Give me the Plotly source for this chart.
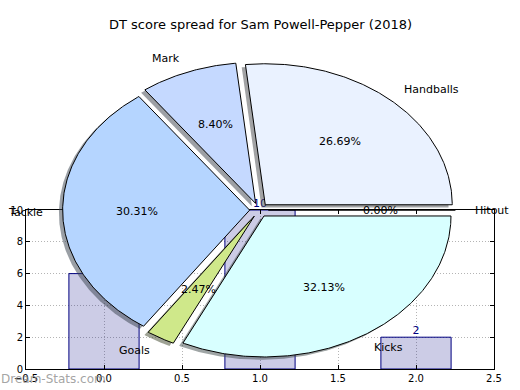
import numpy as np
import plotly.graph_objects as go

# ---- data ----
title_text = "DT score spread for Sam Powell-Pepper (2018)"
pie_labels = ["Handballs", "Mark", "Tackle", "Goals", "Kicks", "Hitout"]
pie_values = [26.69, 8.40, 30.31, 2.47, 32.13, 0.00]
pie_colors = ["#eaf2ff", "#c5d9ff", "#b5d5ff", "#cfe88a", "#d8ffff", "#ffffcc"]
bar_x = [0, 1, 2]
bar_values = [6, 10, 2]
x_ticks = [-0.5, 0.0, 0.5, 1.0, 1.5, 2.0, 2.5]
y_ticks = [0, 2, 4, 6, 8, 10]
watermark = "Dream-Stats.com"

# ---- layout constants (pie drawn in a pixel-like overlay axis) ----
W, H = 520, 390
CX, CY, RX, RY = 259.0, 210.0, 187.0, 141.0
EXPLODE = 0.05
SHADOW = 0.02
FONT = "DejaVu Sans"


def hex_to_rgb(h):
    h = h.lstrip("#")
    return tuple(int(h[i:i + 2], 16) for i in (0, 2, 4))


fig = go.Figure()

# bars
fig.add_trace(go.Bar(
    x=bar_x, y=bar_values, width=0.45,
    marker=dict(color="rgba(0,0,128,0.2)", line=dict(color="#000080", width=1)),
    hoverinfo="skip", showlegend=False, xaxis="x", yaxis="y",
))
fig.add_trace(go.Scatter(
    x=bar_x, y=bar_values, mode="text", text=[str(v) for v in bar_values],
    textposition="top center", textfont=dict(color="#000080", size=11, family=FONT),
    cliponaxis=False, hoverinfo="skip", showlegend=False, xaxis="x", yaxis="y",
))

# pie geometry from values
total = float(sum(pie_values))
angles = []
start = 0.0
for v in pie_values:
    span = 360.0 * v / total
    angles.append((start, start + span))
    start += span


def wedge(t1, t2, dx, dy):
    n = max(2, int(abs(t2 - t1) * 2) + 2)
    ts = np.radians(np.linspace(t1, t2, n))
    xs = [CX + dx] + list(CX + dx + RX * np.cos(ts)) + [CX + dx]
    ys = [CY - dy] + list(CY - dy - RY * np.sin(ts)) + [CY - dy]
    return xs, ys


# shadows first
for (t1, t2), col in zip(angles, pie_colors):
    mid = np.radians((t1 + t2) / 2)
    dx = EXPLODE * RX * np.cos(mid) - SHADOW * RX
    dy = EXPLODE * RY * np.sin(mid) - SHADOW * RY
    xs, ys = wedge(t1, t2, dx, dy)
    r, g, b = hex_to_rgb(col)
    fig.add_trace(go.Scatter(
        x=xs, y=ys, mode="lines", fill="toself",
        fillcolor="rgba(%d,%d,%d,0.5)" % (int(0.3 * r), int(0.3 * g), int(0.3 * b)),
        line=dict(width=0, color="rgba(0,0,0,0)"),
        hoverinfo="skip", showlegend=False, xaxis="x2", yaxis="y2",
    ))

annotations = []
for (t1, t2), col, lab, v in zip(angles, pie_colors, pie_labels, pie_values):
    mid = np.radians((t1 + t2) / 2)
    dx = EXPLODE * RX * np.cos(mid)
    dy = EXPLODE * RY * np.sin(mid)
    xs, ys = wedge(t1, t2, dx, dy)
    fig.add_trace(go.Scatter(
        x=xs, y=ys, mode="lines", fill="toself", fillcolor=col,
        line=dict(width=1, color="black"),
        hoverinfo="skip", showlegend=False, xaxis="x2", yaxis="y2",
    ))
    lx = CX + dx + 1.1 * RX * np.cos(mid)
    ly = CY - dy - 1.1 * RY * np.sin(mid)
    annotations.append(dict(
        x=lx, y=ly, xref="x2", yref="y2", text=lab, showarrow=False,
        xanchor="left" if np.cos(mid) > 0 else "right", yanchor="middle",
        font=dict(size=11, color="black", family=FONT), borderpad=0,
    ))
    px = CX + dx + 0.6 * RX * np.cos(mid)
    py = CY - dy - 0.6 * RY * np.sin(mid)
    annotations.append(dict(
        x=px, y=py, xref="x2", yref="y2", text="%.2f%%" % (100.0 * v / total),
        showarrow=False, xanchor="center", yanchor="middle",
        font=dict(size=11, color="black", family=FONT), borderpad=0,
    ))

annotations.append(dict(
    x=0.5, y=1 - 25.0 / H, xref="paper", yref="paper", text=title_text,
    showarrow=False, xanchor="center", yanchor="middle",
    font=dict(size=13, color="black", family=FONT),
))
annotations.append(dict(
    x=0.0, y=11.0 / H, xref="paper", yref="paper", text=watermark,
    showarrow=False, xanchor="left", yanchor="middle", borderpad=0,
    font=dict(size=12, color="rgba(140,140,140,0.8)", family=FONT),
))

axis_common = dict(
    showgrid=True, gridcolor="#b4b4b4", griddash="1px,2px", gridwidth=1,
    ticks="inside", ticklen=4, tickcolor="black", mirror="ticks",
    showline=True, linecolor="black", linewidth=1, zeroline=False,
    tickfont=dict(size=10, color="black", family=FONT), automargin=False,
)

fig.update_layout(
    template="none",
    width=W, height=H,
    margin=dict(l=0, r=0, t=0, b=0, pad=0, autoexpand=False),
    paper_bgcolor="white", plot_bgcolor="rgba(0,0,0,0)",
    showlegend=False,
    font=dict(family=FONT),
    xaxis=dict(domain=[26.0 / W, 494.0 / W], range=[-0.5, 2.5], tickvals=x_ticks,
               tickformat=".1f", anchor="y", **axis_common),
    yaxis=dict(domain=[21.0 / H, 180.0 / H], range=[0, 10], tickvals=y_ticks,
               anchor="x", **axis_common),
    xaxis2=dict(domain=[0, 1], range=[0, W], visible=False, anchor="y2",
                fixedrange=True, automargin=False),
    yaxis2=dict(domain=[0, 1], range=[H, 0], visible=False, anchor="x2",
                fixedrange=True, automargin=False),
    annotations=annotations,
)

fig.write_html(
    "out.html",
    config={"displayModeBar": False},
    post_script="document.body.style.margin='0px';document.body.style.padding='0px';",
)
